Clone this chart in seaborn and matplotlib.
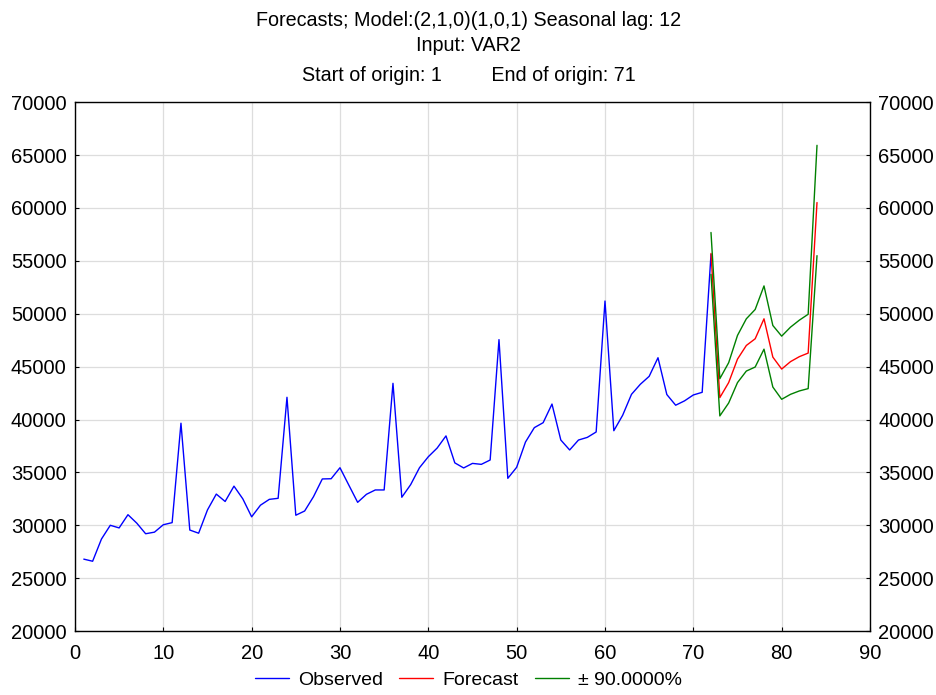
import numpy as np
import pandas as pd
import matplotlib
matplotlib.use("Agg")
import matplotlib.pyplot as plt
import seaborn as sns

obs_x = list(range(1, 73))
observed = [26800, 26600, 28700, 30000, 29750, 31000, 30200, 29200, 29350, 30050,
            30250, 39650, 29550, 29250, 31450, 32950, 32250, 33700, 32500, 30800,
            31900, 32450, 32550, 42100, 30950, 31350, 32700, 34380, 34400, 35440,
            33800, 32170, 32930, 33340, 33340, 43420, 32650, 33840, 35440, 36480,
            37300, 38450, 35900, 35420, 35850, 35760, 36170, 47550, 34440, 35480,
            37870, 39230, 39700, 41460, 38060, 37120, 38060, 38310, 38820, 51200,
            38940, 40400, 42380, 43330, 44080, 45840, 42360, 41350, 41760, 42320,
            42570, 55600]

fc_x = list(range(72, 85))
forecast = [55700, 42070, 43490, 45710, 47000, 47630, 49520, 45900, 44770, 45470,
            45940, 46280, 60510]
upper = [57680, 43860, 45370, 47950, 49520, 50400, 52630, 48890, 47880, 48730,
         49390, 49950, 65920]
lower = [53720, 40340, 41560, 43490, 44580, 44960, 46650, 43070, 41910, 42380,
         42700, 42920, 55490]

x_ticks = [0, 10, 20, 30, 40, 50, 60, 70, 80, 90]
y_ticks = [20000, 25000, 30000, 35000, 40000, 45000, 50000, 55000, 60000, 65000, 70000]

title_lines = ["Forecasts; Model:(2,1,0)(1,0,1) Seasonal lag: 12",
               "Input: VAR2",
               "Start of origin: 1         End of origin: 71"]

sns.set_theme(style="white")
plt.rcParams['font.family'] = ['Liberation Sans', 'DejaVu Sans']
plt.rcParams['text.color'] = 'black'
plt.rcParams['xtick.color'] = 'black'
plt.rcParams['ytick.color'] = 'black'

fig = plt.figure(figsize=(9.37, 6.95), dpi=100)
ax = fig.add_axes([0.080, 0.092, 0.8485, 0.761])

df_obs = pd.DataFrame({"x": obs_x, "y": observed})
df_fc = pd.DataFrame({"x": fc_x, "y": forecast})
df_up = pd.DataFrame({"x": fc_x, "y": upper})
df_lo = pd.DataFrame({"x": fc_x, "y": lower})

sns.lineplot(data=df_obs, x="x", y="y", ax=ax, color="#0000ff", linewidth=1.0, label="Observed")
sns.lineplot(data=df_fc, x="x", y="y", ax=ax, color="#ff0000", linewidth=1.0, label="Forecast")
sns.lineplot(data=df_up, x="x", y="y", ax=ax, color="#008000", linewidth=1.0, label="± 90.0000%")
sns.lineplot(data=df_lo, x="x", y="y", ax=ax, color="#008000", linewidth=1.0)

ax.set_xlim(0, 90)
ax.set_ylim(20000, 70000)
ax.set_xticks(x_ticks)
ax.set_yticks(y_ticks)
ax.set_xlabel("")
ax.set_ylabel("")
ax.grid(True, color="#dddddd", linewidth=0.9)
ax.set_axisbelow(True)
for s in ax.spines.values():
    s.set_color("black")
    s.set_linewidth(1.0)
    s.set_visible(True)
ax.tick_params(axis="both", which="both", direction="in", length=3, width=0.8,
               colors="black", labelsize=14.5, left=True, bottom=True,
               right=True, labelright=True, pad=6)
ax.tick_params(axis="x", pad=9)

handles, labels = ax.get_legend_handles_labels()
ax.get_legend().remove()
fig.legend(handles, labels, loc="lower center", ncol=3, frameon=False,
           fontsize=14, bbox_to_anchor=(0.5, -0.016), handlelength=1.75,
           columnspacing=0.8, handletextpad=0.5)

ys = [0.971, 0.935, 0.892]
for t, yy in zip(title_lines, ys):
    fig.text(0.5, yy, t, ha="center", va="center", fontsize=14.2, color="black")

fig.savefig("out.png", dpi=100)
